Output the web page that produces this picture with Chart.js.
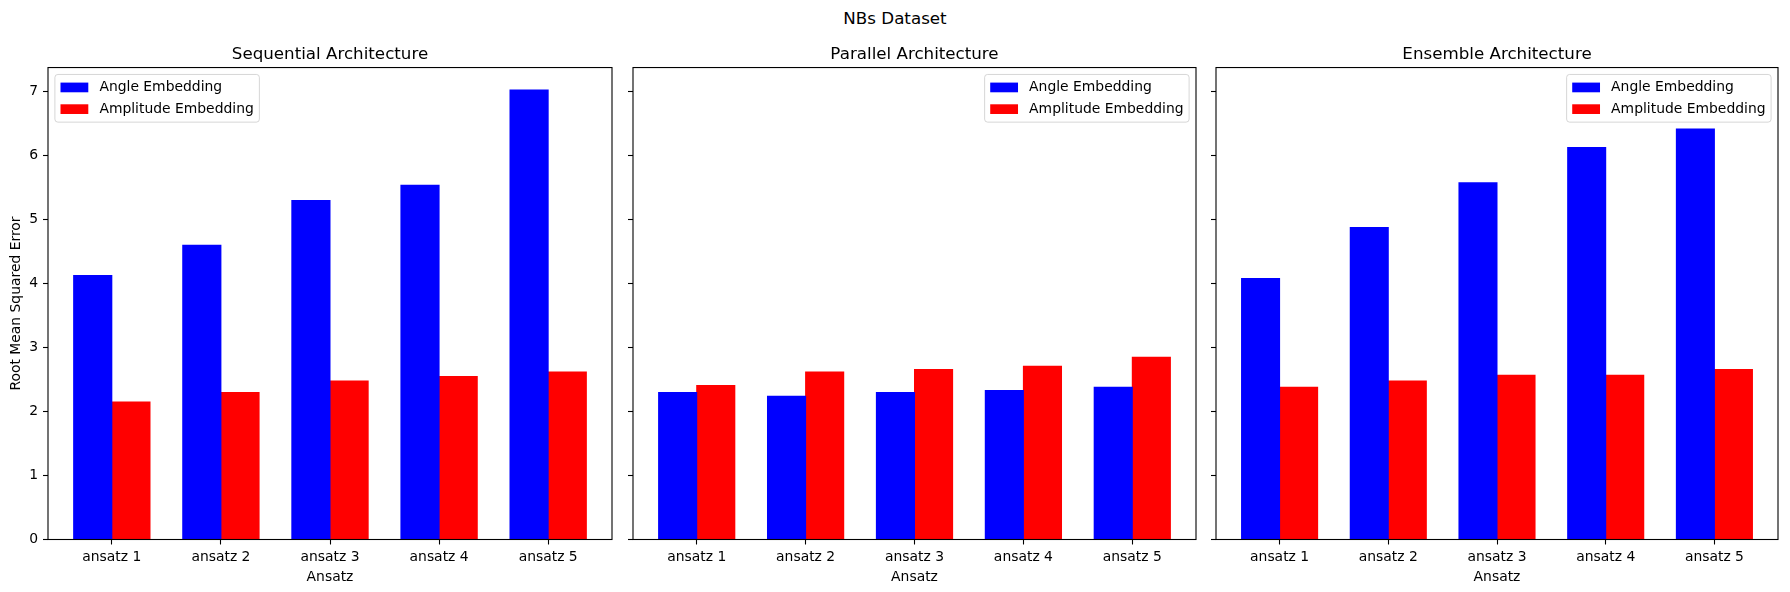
<!DOCTYPE html>
<html>
<head>
<meta charset="utf-8">
<script src="https://cdn.jsdelivr.net/npm/chart.js@4.4.1/dist/chart.umd.min.js"></script>
<style>
  body { margin: 0; background: #fff; }
  #wrap { position: relative; width: 1790px; height: 592px; overflow: hidden; background: #fff; }
  #wrap canvas { position: absolute; top: 0; }
  #suptitle { position: absolute; left: 0; width: 1790px; top: 8px; text-align: center;
    font-family: "DejaVu Sans", sans-serif; font-size: 16.7px; color: #000; }
</style>
</head>
<body>
<div id="wrap">
  <div id="suptitle">NBs Dataset</div>
  <canvas id="c0" width="620" height="592" style="left:0px"></canvas>
  <canvas id="c1" width="611" height="592" style="left:593px"></canvas>
  <canvas id="c2" width="610" height="592" style="left:1176px"></canvas>
</div>
<script>
// data
const categories = ['ansatz 1', 'ansatz 2', 'ansatz 3', 'ansatz 4', 'ansatz 5'];
const panelTitles = ['Sequential Architecture', 'Parallel Architecture', 'Ensemble Architecture'];
const seriesLabels = ['Angle Embedding', 'Amplitude Embedding'];
const seriesColors = ['#0000ff', '#ff0000'];
const yTicks = [0, 1, 2, 3, 4, 5, 6, 7];

const angleSequential = [4.13, 4.60, 5.30, 5.54, 7.03];
const amplitudeSequential = [2.15, 2.30, 2.48, 2.55, 2.62];
const angleParallel = [2.30, 2.24, 2.30, 2.33, 2.38];
const amplitudeParallel = [2.41, 2.62, 2.66, 2.71, 2.85];
const angleEnsemble = [4.08, 4.88, 5.58, 6.13, 6.42];
const amplitudeEnsemble = [2.38, 2.48, 2.57, 2.57, 2.66];

const panelData = [
  [angleSequential, amplitudeSequential],
  [angleParallel, amplitudeParallel],
  [angleEnsemble, amplitudeEnsemble]
];
const legendSide = ['left', 'right', 'right'];

Chart.defaults.font.family = '"DejaVu Sans", sans-serif';
Chart.defaults.font.size = 13.9;
Chart.defaults.color = '#000';

// box around the plot area, like matplotlib spines
const frame = {
  id: 'frame',
  afterDatasetsDraw(chart) {
    const a = chart.chartArea, ctx = chart.ctx;
    ctx.save();
    ctx.strokeStyle = '#000';
    ctx.lineWidth = 1.1;
    ctx.strokeRect(a.left, a.top, a.right - a.left, a.bottom - a.top);
    ctx.restore();
  }
};

// legend drawn inside the plot area
const innerLegend = {
  id: 'innerLegend',
  afterDraw(chart, args, opts) {
    const ctx = chart.ctx, a = chart.chartArea;
    const pad = 5.6, hl = 27.8, hh = 9.7, gap = 11.1, rowH = 14.8, sp = 6.9, axPad = 6.9;
    ctx.save();
    ctx.font = '13.9px "DejaVu Sans"';
    const items = chart.data.datasets;
    const tw = Math.max(...items.map(d => ctx.measureText(d.label).width));
    const w = pad * 2 + hl + gap + tw;
    const h = pad * 2 + rowH * items.length + sp * (items.length - 1);
    const x = opts.side === 'left' ? a.left + axPad : a.right - axPad - w;
    const y = a.top + axPad;
    ctx.beginPath();
    ctx.roundRect(x, y, w, h, 3);
    ctx.fillStyle = 'rgba(255,255,255,0.8)';
    ctx.fill();
    ctx.strokeStyle = 'rgba(204,204,204,0.8)';
    ctx.lineWidth = 1;
    ctx.stroke();
    items.forEach((d, i) => {
      const cy = y + pad + (rowH + sp) * i + rowH / 2;
      ctx.fillStyle = d.backgroundColor;
      ctx.fillRect(x + pad, cy - hh / 2, hl, hh);
      ctx.fillStyle = '#000';
      ctx.textBaseline = 'middle';
      ctx.fillText(d.label, x + pad + hl + gap, cy);
    });
    ctx.restore();
  }
};

for (let p = 0; p < 3; p++) {
  const yWidth = p === 0 ? 48 : 40;
  new Chart(document.getElementById('c' + p), {
    type: 'bar',
    data: {
      datasets: panelData[p].map((vals, s) => ({
        label: seriesLabels[s],
        data: vals.map((v, i) => ({ x: i, y: v })),
        backgroundColor: seriesColors[s],
        borderWidth: 0,
        inflateAmount: 0.5,
        categoryPercentage: 0.7,
        barPercentage: 1.0
      }))
    },
    options: {
      responsive: false,
      animation: false,
      layout: { padding: { left: 0, right: 8, top: 0, bottom: 0 } },
      plugins: {
        legend: { display: false },
        tooltip: { enabled: false },
        title: {
          display: true,
          text: panelTitles[p],
          fullSize: false,
          color: '#000',
          font: { size: 16.7, weight: 'normal' },
          padding: { top: 44.7, bottom: 2.8 }
        },
        innerLegend: { side: legendSide[p] }
      },
      scales: {
        x: {
          type: 'linear',
          min: -0.585,
          max: 4.585,
          offset: false,
          afterBuildTicks: s => { s.ticks = categories.map((c, i) => ({ value: i })); },
          afterFit: s => { s.height = 52.5; },
          ticks: {
            callback: v => categories[v],
            autoSkip: false,
            maxRotation: 0,
            padding: 5,
            color: '#000'
          },
          grid: { drawOnChartArea: false, offset: false, tickLength: 5, tickColor: '#000', tickWidth: 1.1 },
          border: { display: false },
          title: { display: true, text: 'Ansatz', color: '#000', padding: { top: 0, bottom: 6.7 } }
        },
        y: {
          min: 0,
          max: 7.38,
          afterBuildTicks: s => { s.ticks = yTicks.map(v => ({ value: v })); },
          afterFit: s => { s.width = yWidth; },
          ticks: { display: p === 0, padding: 5, color: '#000' },
          grid: { drawOnChartArea: false, tickLength: 5, tickColor: '#000', tickWidth: 1.1 },
          border: { display: false },
          title: {
            display: p === 0,
            text: 'Root Mean Squared Error',
            color: '#000',
            padding: { top: 7.7, bottom: 0 }
          }
        }
      }
    },
    plugins: [frame, innerLegend]
  });
}
</script>
</body>
</html>
